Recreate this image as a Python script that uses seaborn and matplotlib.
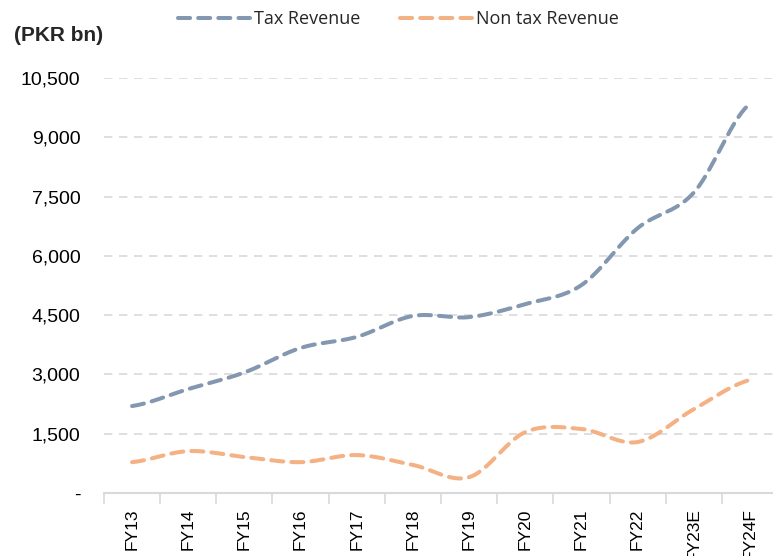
import numpy as np
import pandas as pd
import matplotlib
matplotlib.use("Agg")
import matplotlib.pyplot as plt
import seaborn as sns
from matplotlib.lines import Line2D

# ==============================
# Dados (PKR bn)
# ==============================
years = ["FY13", "FY14", "FY15", "FY16", "FY17", "FY18",
         "FY19", "FY20", "FY21", "FY22", "FY23E", "FY24F"]
tax_revenue = [2200, 2630, 3050, 3670, 3950, 4480,
               4450, 4780, 5260, 6700, 7600, 9850]
non_tax_revenue = [780, 1060, 910, 780, 960, 710,
                   400, 1540, 1620, 1290, 2120, 2860]
y_ticks = [0, 1500, 3000, 4500, 6000, 7500, 9000, 10500]
y_labels = ["-", "1,500", "3,000", "4,500", "6,000", "7,500", "9,000", "10,500"]

TAX_COLOR = "#8497b0"
NONTAX_COLOR = "#f4b183"
GRID_COLOR = "#d9d9d9"
LW = 2.9
DASH = (3.0, 2.0)


def smooth(values, steps=20):
    # curva suave tipo "smoothed line" do Excel (Catmull-Rom)
    p = np.asarray(values, dtype=float)
    p = np.concatenate([[p[0]], p, [p[-1]]])
    xs, ys = [], []
    for i in range(1, len(p) - 2):
        t = np.linspace(0, 1, steps, endpoint=False)
        p0, p1, p2, p3 = p[i - 1], p[i], p[i + 1], p[i + 2]
        y = 0.5 * ((2 * p1) + (-p0 + p2) * t
                   + (2 * p0 - 5 * p1 + 4 * p2 - p3) * t ** 2
                   + (-p0 + 3 * p1 - 3 * p2 + p3) * t ** 3)
        xs.extend(i - 1 + t)
        ys.extend(y)
    xs.append(len(values) - 1)
    ys.append(values[-1])
    return np.array(xs), np.array(ys)


sns.set_theme(style="white")
plt.rcParams["font.family"] = ["Liberation Sans", "DejaVu Sans"]

fig = plt.figure(figsize=(7.73, 5.56), dpi=100)
ax = fig.add_axes([0.1345, 0.1133, 0.872, 0.7464])

frames = []
for name, vals in [("Tax Revenue", tax_revenue), ("Non tax Revenue", non_tax_revenue)]:
    xs, ys = smooth(vals)
    frames.append(pd.DataFrame({"x": xs, "y": ys, "serie": name}))
df = pd.concat(frames, ignore_index=True)

sns.lineplot(data=df, x="x", y="y", hue="serie",
             palette={"Tax Revenue": TAX_COLOR, "Non tax Revenue": NONTAX_COLOR},
             linewidth=LW, ax=ax, legend=False, sort=False)
for line in ax.lines:
    line.set_dashes(DASH)
    line.set_dash_capstyle("round")
    line.set_clip_on(False)

ax.set_xlim(-0.5, len(years) - 0.5)
ax.set_ylim(0, 10500)
ax.set_yticks(y_ticks)
ax.set_yticklabels(y_labels)
ax.set_xticks(range(len(years)))
ax.set_xticklabels(years, rotation=90)
ax.set_xticks(np.arange(-0.5, len(years), 1), minor=True)
ax.tick_params(axis="x", which="major", length=0, pad=11, labelsize=12.5, colors="black")
ax.tick_params(axis="x", which="minor", length=8, width=1.2, color=GRID_COLOR, bottom=True)
ax.tick_params(axis="y", length=0, pad=17, labelsize=14, colors="black")
ax.set_xlabel("")
ax.set_ylabel("")

for yt in y_ticks[1:]:
    ax.axhline(yt, color=GRID_COLOR, linewidth=1.2, dashes=(5, 4), zorder=0)

for s in ["top", "right", "left"]:
    ax.spines[s].set_visible(False)
ax.spines["bottom"].set_color(GRID_COLOR)
ax.spines["bottom"].set_linewidth(1.5)

fig.text(0.018, 0.937, "(PKR bn)", fontsize=15, fontweight="bold", ha="left", va="center")

# legenda
handles = [Line2D([0], [0], color=c, linewidth=LW, dashes=DASH, dash_capstyle="round")
           for c in [TAX_COLOR, NONTAX_COLOR]]
leg = fig.legend(handles, ["Tax Revenue", "Non tax Revenue"], loc="center",
                 bbox_to_anchor=(0.515, 0.965), ncol=2, frameon=False,
                 handlelength=4.0, handletextpad=0.2, columnspacing=2.2,
                 prop={"family": ["Open Sans", "DejaVu Sans"], "size": 13})

fig.savefig("out.png", dpi=100)
